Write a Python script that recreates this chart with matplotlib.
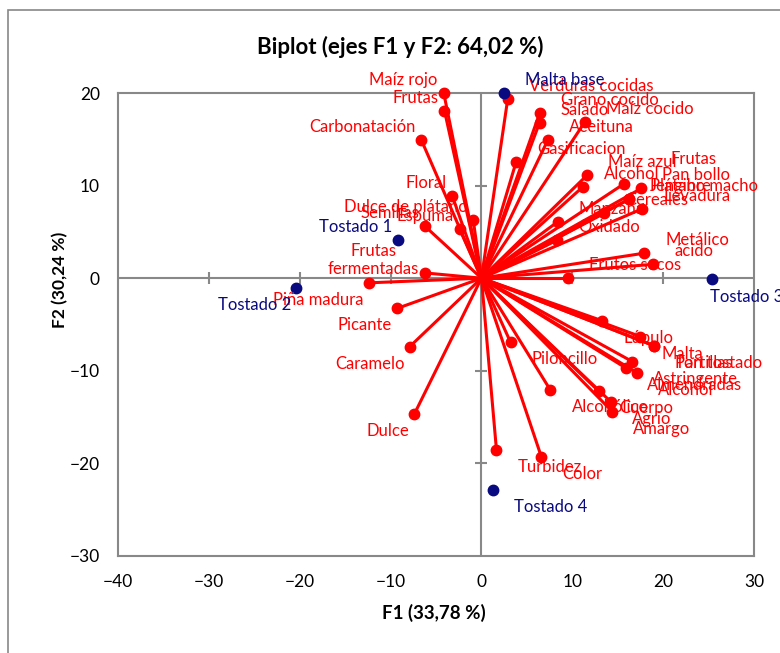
import matplotlib.pyplot as plt
from matplotlib.patches import Rectangle

# Variables (F1, F2)
var_names = [
    'Maíz rojo', 'Frutas', 'Carbonatación', 'Floral', 'Dulce de plátano',
    'Semillas', 'Espuma', 'Frutas\nfermentadas', 'Piña madura', 'Picante',
    'Caramelo', 'Dulce',
    'Verduras cocidas', 'Grano cocido', 'Salado', 'Maíz cocido', 'Aceituna',
    'Gasificacion', 'Maíz azul', 'Alcohol', 'Pan bollo', 'Frutas',
    'Jengibre', 'Plátano macho', 'Levadura', 'Cereales', 'Manzana', 'Oxidado',
    'Metálico', 'ácido', 'Frutos secos',
    'Lúpulo', 'Malta', 'Tortillas', 'Pan tostado', 'Astringente',
    'Almendradas', 'Alcohol', 'Piloncillo', 'Alcohólico', 'Cuerpo', 'Agrio',
    'Amargo', 'Turbidez', 'Color',
]
var_f1 = [
    -4.15, -4.07, -6.6, -3.2, -0.9,
    -6.2, -2.4, -6.2, -12.4, -9.3,
    -7.9, -7.4,
    2.9, 6.4, 6.4, 11.4, 7.3,
    3.8, 11.6, 11.2, 17.6, 15.7,
    16.2, 16.2, 17.7, 13.5, 8.4, 8.3,
    17.9, 18.9, 9.5,
    13.3, 17.5, 19.0, 19.0, 16.6,
    15.9, 17.1, 3.2, 7.6, 12.9, 14.3,
    14.4, 1.65, 6.6,
]
var_f2 = [
    20.0, 18.1, 14.9, 8.85, 6.26,
    5.6, 5.3, 0.57, -0.5, -3.27,
    -7.4, -14.7,
    19.4, 17.8, 16.8, 16.9, 14.9,
    12.5, 11.1, 9.9, 9.7, 10.2,
    8.5, 8.5, 7.5, 7.0, 6.1, 4.1,
    2.7, 1.5, 0.0,
    -4.6, -6.3, -7.3, -7.3, -9.0,
    -9.7, -10.2, -6.9, -12.1, -12.2, -13.4,
    -14.4, -18.5, -19.3,
]

# Observations (F1, F2)
obs_names = ['Malta base', 'Tostado 1', 'Tostado 2', 'Tostado 3', 'Tostado 4']
obs_f1 = [2.46, -9.2, -20.4, 25.4, 1.29]
obs_f2 = [19.95, 4.1, -1.1, -0.14, -22.9]

RED = '#ff0000'
NAVY = '#0a0a80'
GRAY = '#888888'
FONT = ['Lato', 'DejaVu Sans']

plt.rcParams['font.family'] = FONT

fig = plt.figure(figsize=(7.8, 6.53), dpi=100)
W, H = 780, 653
ax = fig.add_axes([118 / W, (H - 556) / H, (754 - 118) / W, (556 - 93) / H])

# chart area border
fig.patches.append(Rectangle((8 / W, -0.05), 1.0, (H - 10) / H + 0.05,
                             transform=fig.transFigure, fill=False,
                             edgecolor=GRAY, linewidth=1.2))

ax.set_xlim(-40, 30)
ax.set_ylim(-30, 20)
for sp in ax.spines.values():
    sp.set_color(GRAY)
    sp.set_linewidth(1.5)

ax.set_xticks(range(-40, 31, 10))
ax.set_yticks(range(-30, 21, 10))
ax.tick_params(length=0, labelsize=12.5, colors='black')
ax.tick_params(axis='x', pad=13)
ax.tick_params(axis='y', pad=13)

# axes through the origin with cross ticks
ax.axhline(0, color=GRAY, lw=1.5, zorder=1)
ax.axvline(0, color=GRAY, lw=1.5, zorder=1)
ax.plot(range(-30, 30, 10), [0] * 6, ls='none', marker='|', ms=8,
        mew=1.5, color=GRAY, zorder=1)
ax.plot([0] * 4, range(-20, 20, 10), ls='none', marker='_', ms=8,
        mew=1.5, color=GRAY, zorder=1)


def label_offset(x, y):
    if x < 0:
        return ('right', (-6, 13)) if y >= 0 else ('right', (-5, -17))
    return ('left', (21, 13)) if y >= 0 else ('left', (21, -17))


# hand-placed labels (index in var_names -> pixel offset)
var_label_fix = {21: (46, 25)}

for i, (name, x, y) in enumerate(zip(var_names, var_f1, var_f2)):
    ax.plot([0, x], [0, y], color=RED, lw=2.2, zorder=2, clip_on=False)
    ax.plot(x, y, 'o', color=RED, ms=7.5, zorder=3, clip_on=False)
    ha, off = label_offset(x, y)
    off = var_label_fix.get(i, off)
    ax.annotate(name, (x, y), xytext=off, textcoords='offset pixels',
                ha=ha, va='center', ma='center', color=RED, fontsize=12,
                annotation_clip=False, zorder=4)

for name, x, y in zip(obs_names, obs_f1, obs_f2):
    ax.plot(x, y, 'o', color=NAVY, ms=7.5, zorder=3, clip_on=False)
    ha, off = label_offset(x, y)
    if name == 'Tostado 3':
        off = (-2, -18)
    ax.annotate(name, (x, y), xytext=off, textcoords='offset pixels',
                ha=ha, va='center', color=NAVY, fontsize=12,
                annotation_clip=False, zorder=4)

fig.text(400 / W, 1 - 47 / H, 'Biplot (ejes F1 y F2: 64,02 %)',
         ha='center', va='center', fontsize=16, fontweight='bold')
fig.text(434 / W, 1 - 613 / H, 'F1 (33,78 %)', ha='center', va='center',
         fontsize=13.5, fontweight='bold')
fig.text(60 / W, 1 - 280 / H, 'F2 (30,24 %)', ha='center', va='center',
         rotation=90, fontsize=12.5, fontweight='bold')

fig.savefig('out.png', dpi=100)
